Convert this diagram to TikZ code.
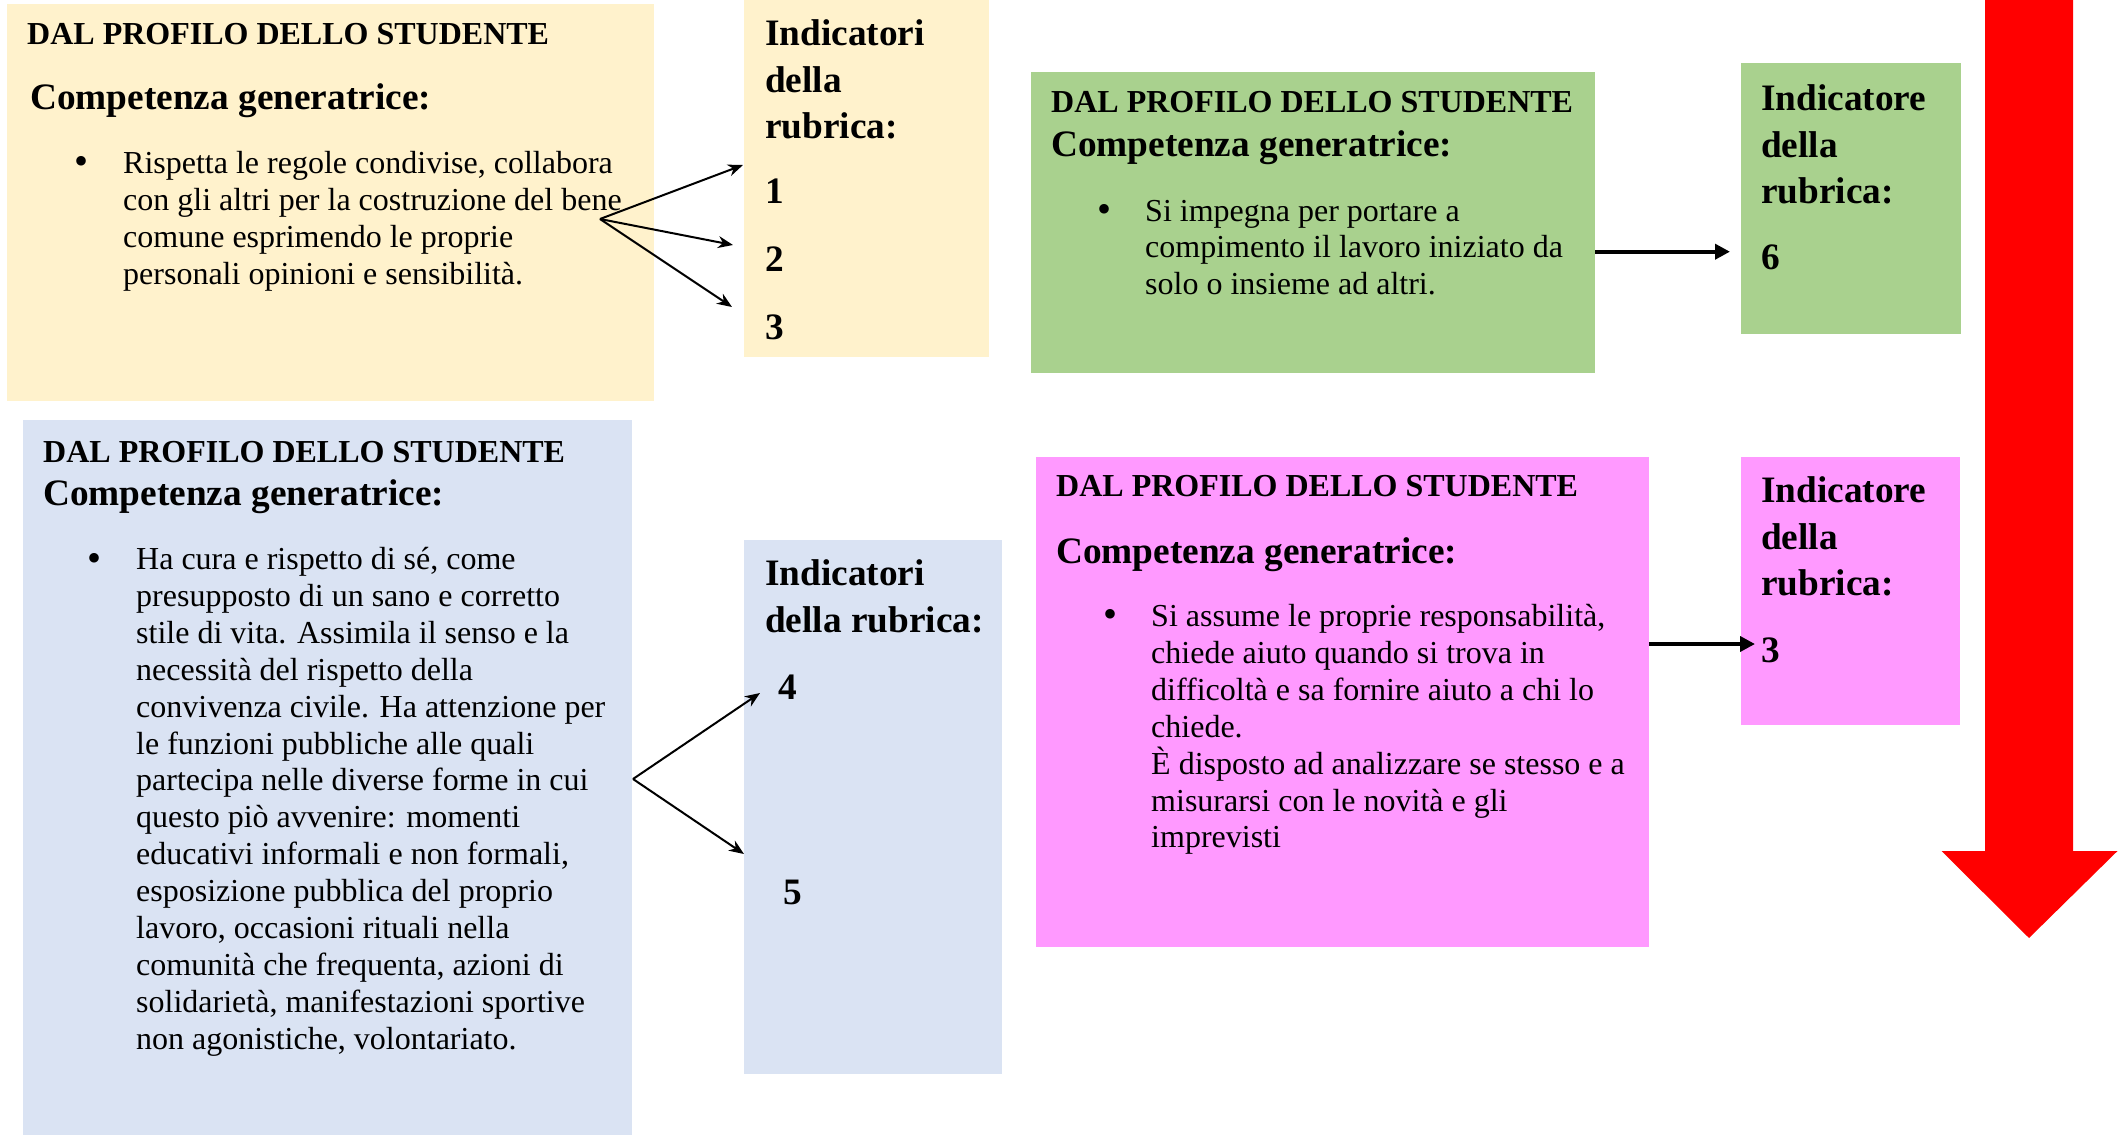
\documentclass[tikz,border=0pt]{standalone}
\usepackage{fontspec}
\setmainfont{Liberation Serif}
\usetikzlibrary{arrows.meta}
\definecolor{cyel}{HTML}{FFF2CC}
\definecolor{cblu}{HTML}{DAE3F3}
\definecolor{cgrn}{HTML}{A9D18E}
\definecolor{cpnk}{HTML}{FF99FF}
\definecolor{cred}{HTML}{FF0000}
\newcommand\mystack[1]{\vtop{\halign{##\hfil\cr#1\crcr}}}
\begin{document}
\begin{tikzpicture}[x=1pt,y=-1pt,
  box/.style={fill=#1, draw=none, anchor=north west, inner sep=0pt, outer sep=0pt},
  head/.style={anchor=base west, inner sep=0pt, font=\fontsize{32}{36.9}\selectfont\bfseries},
  comp/.style={anchor=base west, inner sep=0pt, font=\fontsize{37.3}{43}\selectfont\bfseries},
  body/.style={anchor=base west, inner sep=0pt, font=\fontsize{32}{36.9}\selectfont},
  bul/.style={anchor=center, inner sep=0pt, font=\fontsize{40}{40}\selectfont},
  ind/.style={anchor=base west, inner sep=0pt, font=\fontsize{37.3}{46.4}\selectfont\bfseries},
  num/.style={anchor=base west, inner sep=0pt, font=\fontsize{37.3}{46.4}\selectfont\bfseries},
  thinarr/.style={-{Stealth[length=15pt,width=12pt]}, line width=2pt},
  thickarr/.style={-{Triangle[length=15pt,width=15pt]}, line width=4.3pt},
]
\useasboundingbox (0,0) rectangle (2118,1135);

% boxes
\node[box=cyel, minimum width=647pt, minimum height=397pt] (yb) at (7,4) {};
\node[box=cyel, minimum width=245pt, minimum height=357pt] (yi) at (744,0) {};
\node[box=cgrn, minimum width=564pt, minimum height=301pt] (gb) at (1031,72) {};
\node[box=cgrn, minimum width=220pt, minimum height=271pt] (gi) at (1741,63) {};
\node[box=cblu, minimum width=609pt, minimum height=715pt] (bb) at (23,420) {};
\node[box=cblu, minimum width=258pt, minimum height=534pt] (bi) at (744,540) {};
\node[box=cpnk, minimum width=613pt, minimum height=490pt] (pb) at (1036,457) {};
\node[box=cpnk, minimum width=219pt, minimum height=268pt] (pi) at (1741,457) {};

% red arrow
\fill[cred] (1985,0) -- (2073,0) -- (2073,851) -- (2117.5,851) -- (2029,938)
  -- (1941.5,851) -- (1985,851) -- cycle;

% yellow
\node[head] (yh) at (27,44) {DAL PROFILO DELLO STUDENTE};
\node[comp] (yc) at (30,109.5) {Competenza generatrice:};
\node[bul] (ybul) at (82,165) {\textbullet};
\node[body] (yt) at (123,173.5) {\mystack{Rispetta le regole condivise, collabora\cr con gli altri per la costruzione del bene\cr comune esprimendo le proprie\cr personali opinioni e sensibilità.}};
\node[ind] (yit) at (765,45.7) {\mystack{Indicatori\cr della\cr rubrica:}};
\node[num] (y1) at (765,203.7) {1};
\node[num] (y2) at (765,271.7) {2};
\node[num] (y3) at (765,339.7) {3};
\coordinate (yo) at (600,219);
\coordinate (ye1) at (743,165);
\coordinate (ye2) at (733,245);
\coordinate (ye3) at (732,307);
\draw[thinarr] (yo) -- (ye1);
\draw[thinarr] (yo) -- (ye2);
\draw[thinarr] (yo) -- (ye3);

% green
\node[head] (gh) at (1051,112.5) {DAL PROFILO DELLO STUDENTE};
\node[comp] (gc) at (1051,156.5) {Competenza generatrice:};
\node[bul] (gbul) at (1104,213) {\textbullet};
\node[body] (gt) at (1145,221) {\mystack{Si impegna per portare a\cr compimento il lavoro iniziato da\cr solo o insieme ad altri.}};
\node[ind] (git) at (1761,110.7) {\mystack{Indicatore\cr della\cr rubrica:}};
\node[num] (g6) at (1761,269.7) {6};
\coordinate (gs) at (gb.east |- 0,251.7);
\coordinate (ge) at (1730,251.7);
\draw[thickarr] (gs) -- (ge);

% blue
\node[head] (bh) at (43,462.5) {DAL PROFILO DELLO STUDENTE};
\node[comp] (bc) at (43,505.5) {Competenza generatrice:};
\node[bul] (bbul) at (95,562) {\textbullet};
\node[body] (bt) at (136,569.5) {\mystack{Ha cura e rispetto di sé, come\cr presupposto di un sano e corretto\cr stile di vita. Assimila il senso e la\cr necessità del rispetto della\cr convivenza civile. Ha attenzione per\cr le funzioni pubbliche alle quali\cr partecipa nelle diverse forme in cui\cr questo piò avvenire: momenti\cr educativi informali e non formali,\cr esposizione pubblica del proprio\cr lavoro, occasioni rituali nella\cr comunità che frequenta, azioni di\cr solidarietà, manifestazioni sportive\cr non agonistiche, volontariato.}};
\node[ind] (bit) at (765,585.7) {\mystack{Indicatori\cr della rubrica:}};
\node[num] (b4) at (778,699) {4};
\node[num] (b5) at (783,904.7) {5};
\coordinate (bo) at (633,779);
\coordinate (be1) at (760,693);
\coordinate (be2) at (744,854);
\draw[thinarr] (bo) -- (be1);
\draw[thinarr] (bo) -- (be2);

% pink
\node[head] (ph) at (1056,496) {DAL PROFILO DELLO STUDENTE};
\node[comp] (pc) at (1056,563.5) {Competenza generatrice:};
\node[bul] (pbul) at (1110,618.5) {\textbullet};
\node[body] (pt) at (1151,626.5) {\mystack{Si assume le proprie responsabilità,\cr chiede aiuto quando si trova in\cr difficoltà e sa fornire aiuto a chi lo\cr chiede.\cr È disposto ad analizzare se stesso e a\cr misurarsi con le novità e gli\cr imprevisti}};
\node[ind] (pit) at (1761,502.7) {\mystack{Indicatore\cr della\cr rubrica:}};
\node[num] (p3) at (1761,662.7) {3};
\coordinate (ps) at (pb.east |- 0,644);
\coordinate (pe) at (1755,644);
\draw[thickarr] (ps) -- (pe);
\end{tikzpicture}
\end{document}
